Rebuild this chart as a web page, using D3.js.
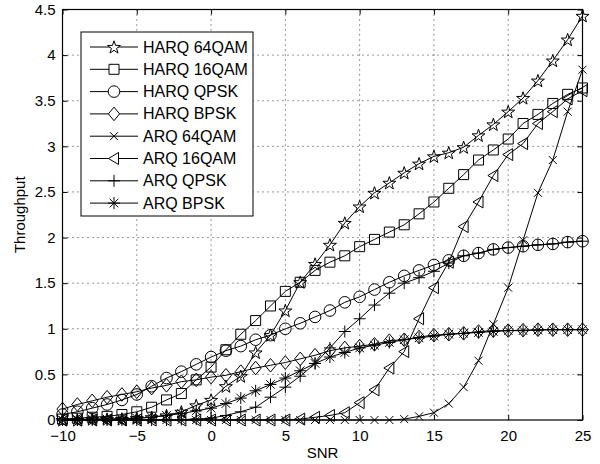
<!DOCTYPE html>
<html>
<head>
<meta charset="utf-8">
<script src="https://cdn.jsdelivr.net/npm/d3@7"></script>
<style>
    body { margin: 0; background: #fff; }
    text { font-family: "Liberation Sans", Arial, sans-serif; }
</style>
</head>
<body>
<div id="chart"></div>
<script>
const snr = [-10, -9, -8, -7, -6, -5, -4, -3, -2, -1, 0, 1, 2, 3, 4, 5, 6, 7, 8, 9, 10, 11, 12,
    13, 14, 15, 16, 17, 18, 19, 20, 21, 22, 23, 24, 25];

const harq64qam = [0.00, 0.00, 0.01, 0.01, 0.01, 0.02, 0.03, 0.05, 0.09, 0.16, 0.22, 0.37, 0.48,
    0.74, 0.93, 1.20, 1.51, 1.71, 1.92, 2.16, 2.34, 2.49, 2.60, 2.71, 2.81, 2.89, 2.93, 2.99,
    3.12, 3.24, 3.38, 3.53, 3.72, 3.94, 4.17, 4.43];
const harq16qam = [0.01, 0.02, 0.03, 0.04, 0.06, 0.09, 0.14, 0.22, 0.29, 0.44, 0.58, 0.77, 0.94,
    1.09, 1.25, 1.41, 1.51, 1.64, 1.73, 1.80, 1.90, 1.98, 2.06, 2.14, 2.26, 2.39, 2.54, 2.69,
    2.85, 2.96, 3.08, 3.25, 3.35, 3.47, 3.57, 3.64];
const harqQpsk = [0.06, 0.09, 0.13, 0.17, 0.22, 0.28, 0.37, 0.46, 0.53, 0.61, 0.69, 0.76, 0.81,
    0.88, 0.93, 1.00, 1.06, 1.13, 1.20, 1.29, 1.35, 1.43, 1.51, 1.58, 1.64, 1.70, 1.75, 1.80,
    1.83, 1.87, 1.89, 1.905, 1.92, 1.93, 1.95, 1.96];
const harqBpsk = [0.12, 0.17, 0.21, 0.25, 0.28, 0.31, 0.35, 0.38, 0.42, 0.44, 0.47, 0.49, 0.53,
    0.57, 0.60, 0.63, 0.67, 0.71, 0.76, 0.79, 0.81, 0.83, 0.87, 0.88, 0.91, 0.93, 0.94, 0.95,
    0.97, 0.98, 0.98, 0.985, 0.99, 0.99, 0.99, 0.99];
const arq64qam = [0, 0, 0, 0, 0, 0, 0, 0, 0, 0, 0, 0, 0, 0, 0, 0, 0, 0, 0, 0, 0, 0, 0, 0.01,
    0.04, 0.08, 0.18, 0.36, 0.65, 1.05, 1.45, 1.97, 2.49, 2.85, 3.38, 3.84];
const arq16qam = [0, 0, 0, 0, 0, 0, 0, 0, 0, 0, 0, 0, 0, 0, 0, 0, 0.01, 0.03, 0.05, 0.08, 0.19,
    0.33, 0.57, 0.75, 1.11, 1.45, 1.73, 2.12, 2.39, 2.68, 2.91, 3.03, 3.25, 3.38, 3.52, 3.61];
const arqQpsk = [0, 0, 0, 0, 0, 0, 0, 0, 0.005, 0.01, 0.02, 0.05, 0.09, 0.14, 0.25, 0.36, 0.48,
    0.62, 0.79, 0.97, 1.11, 1.26, 1.39, 1.50, 1.56, 1.63, 1.72, 1.80, 1.83, 1.87, 1.89, 1.905,
    1.92, 1.93, 1.95, 1.96];
const arqBpsk = [0.00, 0.005, 0.01, 0.01, 0.015, 0.02, 0.03, 0.05, 0.07, 0.10, 0.13, 0.18, 0.24,
    0.32, 0.39, 0.46, 0.54, 0.62, 0.69, 0.74, 0.79, 0.82, 0.85, 0.88, 0.90, 0.92, 0.94, 0.95,
    0.96, 0.97, 0.98, 0.98, 0.985, 0.99, 0.99, 0.99];

const xTicks = [-10, -5, 0, 5, 10, 15, 20, 25];
const yTicks = [0, 0.5, 1, 1.5, 2, 2.5, 3, 3.5, 4, 4.5];

const series = [
    { name: "HARQ 64QAM", marker: "star", values: harq64qam },
    { name: "HARQ 16QAM", marker: "square", values: harq16qam },
    { name: "HARQ QPSK", marker: "circle", values: harqQpsk },
    { name: "HARQ BPSK", marker: "diamond", values: harqBpsk },
    { name: "ARQ 64QAM", marker: "x", values: arq64qam },
    { name: "ARQ 16QAM", marker: "triangle", values: arq16qam },
    { name: "ARQ QPSK", marker: "plus", values: arqQpsk },
    { name: "ARQ BPSK", marker: "asterisk", values: arqBpsk }
];

/**
 * Pfad fuer ein Marker-Symbol im Matlab-Stil, zentriert auf (0,0)
 */
function markerPath(type) {
    switch (type) {
        case "star": {
            const pts = [];
            for (let i = 0; i < 10; i++) {
                const r = i % 2 === 0 ? 6.8 : 2.7;
                const a = -Math.PI / 2 + i * Math.PI / 5;
                pts.push([r * Math.cos(a), r * Math.sin(a) + 0.6]);
            }
            return "M" + pts.map(p => p.join(",")).join("L") + "Z";
        }
        case "square":
            return "M-5,-5L5,-5L5,5L-5,5Z";
        case "circle":
            return d3.arc()({ innerRadius: 0, outerRadius: 5.8, startAngle: 0, endAngle: 2 * Math.PI });
        case "diamond":
            return "M0,-6.8L5.6,0L0,6.8L-5.6,0Z";
        case "x":
            return "M-4,-4L4,4M-4,4L4,-4";
        case "triangle":
            return "M-5.5,0L4.5,-6L4.5,6Z";
        case "plus":
            return "M-6,0L6,0M0,-6L0,6";
        case "asterisk":
            return "M-6,0L6,0M0,-6L0,6M-4.3,-4.3L4.3,4.3M-4.3,4.3L4.3,-4.3";
    }
}

function drawChart() {
    const width = 600;
    const height = 464;
    const margin = { top: 9.5, right: 17.5, bottom: 44, left: 62.5 };
    const innerW = width - margin.left - margin.right;
    const innerH = height - margin.top - margin.bottom;

    const svg = d3.select("#chart")
        .append("svg")
        .attr("width", width)
        .attr("height", height);

    const g = svg.append("g")
        .attr("transform", `translate(${margin.left}, ${margin.top})`);

    const x = d3.scaleLinear().domain([-10, 25]).range([0, innerW]);
    const y = d3.scaleLinear().domain([0, 4.5]).range([innerH, 0]);

    // Gitter (gepunktet)
    g.append("g")
        .selectAll("line")
        .data(xTicks.slice(1, -1))
        .enter()
        .append("line")
        .attr("x1", d => x(d)).attr("x2", d => x(d))
        .attr("y1", 0).attr("y2", innerH)
        .attr("stroke", "#333")
        .attr("stroke-width", 1)
        .attr("stroke-dasharray", "1,4");

    g.append("g")
        .selectAll("line")
        .data(yTicks.slice(1, -1))
        .enter()
        .append("line")
        .attr("x1", 0).attr("x2", innerW)
        .attr("y1", d => y(d)).attr("y2", d => y(d))
        .attr("stroke", "#333")
        .attr("stroke-width", 1)
        .attr("stroke-dasharray", "1,4");

    // Achsen mit Ticks nach innen
    const tickLen = 5;
    const xAxis = g.append("g")
        .attr("transform", `translate(0, ${innerH})`)
        .call(d3.axisBottom(x).tickValues(xTicks).tickSizeInner(-tickLen).tickSizeOuter(0)
            .tickPadding(10).tickFormat(d => d < 0 ? "\u2212" + Math.abs(d) : d));
    const yAxis = g.append("g")
        .call(d3.axisLeft(y).tickValues(yTicks).tickSizeInner(-tickLen).tickSizeOuter(0)
            .tickPadding(7).tickFormat(d3.format("")));
    g.append("g")
        .call(d3.axisTop(x).tickValues(xTicks).tickSizeInner(-tickLen).tickSizeOuter(0).tickFormat(""));
    g.append("g")
        .attr("transform", `translate(${innerW}, 0)`)
        .call(d3.axisRight(y).tickValues(yTicks).tickSizeInner(-tickLen).tickSizeOuter(0).tickFormat(""));

    [xAxis, yAxis].forEach(a => a.selectAll("text")
        .style("font-size", "15px")
        .style("font-family", "'Liberation Sans', Arial, sans-serif")
        .attr("fill", "#000"));
    g.selectAll(".domain").remove();
    g.selectAll(".tick line").attr("stroke", "#000");

    g.append("rect")
        .attr("width", innerW)
        .attr("height", innerH)
        .attr("fill", "none")
        .attr("stroke", "#000")
        .attr("stroke-width", 1.2);

    // Kurven
    const line = d3.line()
        .x((d, i) => x(snr[i]))
        .y(d => y(d));

    series.forEach(s => {
        const sg = g.append("g");
        sg.append("path")
            .datum(s.values)
            .attr("d", line)
            .attr("fill", "none")
            .attr("stroke", "#000")
            .attr("stroke-width", 1);

        sg.selectAll(".m")
            .data(s.values)
            .enter()
            .append("path")
            .attr("transform", (d, i) => `translate(${x(snr[i])}, ${y(d)})`)
            .attr("d", markerPath(s.marker))
            .attr("fill", "none")
            .attr("stroke", "#000")
            .attr("stroke-width", 1);
    });

    // Achsenbeschriftungen
    svg.append("text")
        .attr("x", margin.left + innerW / 2)
        .attr("y", 458)
        .attr("text-anchor", "middle")
        .style("font-size", "15px")
        .text("SNR");

    svg.append("text")
        .attr("transform", `translate(25, ${margin.top + innerH / 2}) rotate(-90)`)
        .attr("text-anchor", "middle")
        .style("font-size", "15px")
        .text("Throughput");

    // Legende
    const legend = svg.append("g")
        .attr("transform", "translate(81, 32)");

    legend.append("rect")
        .attr("width", 172)
        .attr("height", 184)
        .attr("fill", "#fff")
        .attr("stroke", "#000")
        .attr("stroke-width", 1);

    series.forEach((s, i) => {
        const item = legend.append("g")
            .attr("transform", `translate(0, ${15 + i * 22.3})`);

        item.append("line")
            .attr("x1", 9).attr("x2", 57)
            .attr("stroke", "#000")
            .attr("stroke-width", 1);

        item.append("path")
            .attr("transform", "translate(33, 0)")
            .attr("d", markerPath(s.marker))
            .attr("fill", "#fff")
            .attr("stroke", "#000")
            .attr("stroke-width", 1);

        item.append("text")
            .attr("x", 62)
            .attr("y", 5.5)
            .style("font-size", "16px")
            .text(s.name);
    });
}

drawChart();
</script>
</body>
</html>
